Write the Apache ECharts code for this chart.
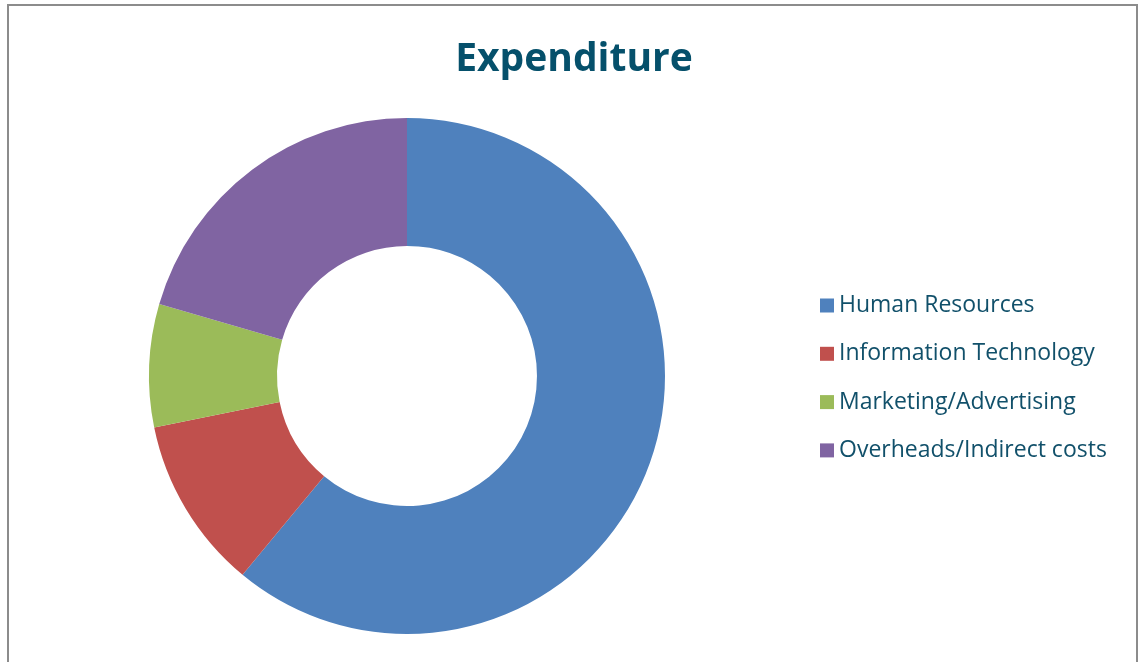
<!DOCTYPE html>
<html>
<head>
<meta charset="utf-8">
<title>Expenditure</title>
<script src="https://cdn.jsdelivr.net/npm/echarts@6/dist/echarts.min.js"></script>
<style>
  html, body { margin: 0; padding: 0; background: #fff; }
  #chart { width: 1144px; height: 662px; }
</style>
</head>
<body>
<div id="chart"></div>
<script>
// expenditure shares (percent)
const categories = ['Human Resources', 'Information Technology', 'Marketing/Advertising', 'Overheads/Indirect costs'];
const values = [61.0, 10.8, 7.7, 20.5];
const colors = ['#4f81bd', '#c0504d', '#9bbb59', '#8064a2'];

const chart = echarts.init(document.getElementById('chart'));

const pieData = categories.map((name, i) => ({
  name: name,
  value: values[i],
  itemStyle: {color: colors[i]}
}));

chart.setOption({
  animation: false,
  title: {
    text: 'Expenditure',
    left: 574,
    top: 40,
    padding: 0,
    textAlign: 'center',
    textStyle: {
      fontFamily: 'Open Sans',
      fontWeight: 'bold',
      fontSize: 39,
      color: '#05506b'
    }
  },
  legend: {
    orient: 'vertical',
    left: 820,
    top: 294,
    padding: 0,
    itemWidth: 14,
    itemHeight: 14,
    itemGap: 25.3,
    icon: 'rect',
    textStyle: {
      fontFamily: 'Open Sans',
      fontSize: 23,
      lineHeight: 23,
      color: '#11506a'
    },
    data: categories
  },
  graphic: [{
    type: 'rect',
    shape: {x: 8, y: 5, width: 1129, height: 700},
    style: {fill: 'none', stroke: '#8c8c8c', lineWidth: 2},
    silent: true
  }],
  series: [{
    type: 'pie',
    center: [407, 376],
    radius: [130, 258],
    startAngle: 90,
    clockwise: true,
    label: {show: false},
    labelLine: {show: false},
    itemStyle: {borderWidth: 0},
    emphasis: {disabled: true},
    data: pieData
  }]
});
</script>
</body>
</html>
